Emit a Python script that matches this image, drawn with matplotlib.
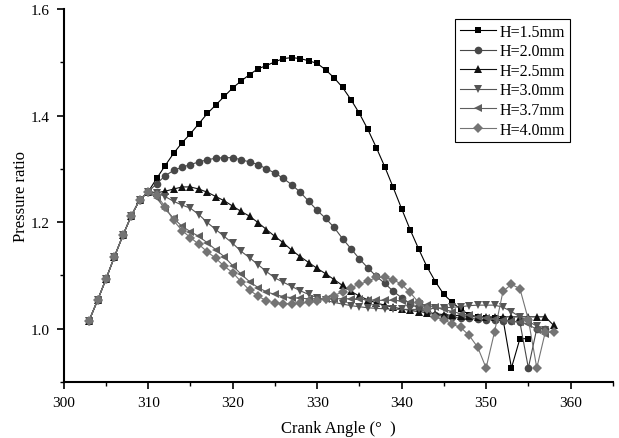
import numpy as np
import matplotlib
matplotlib.use("Agg")
from matplotlib import pyplot as plt

plt.rcParams['font.family'] = ['Liberation Serif', 'DejaVu Serif']

# common rising part, 303..310 deg
start = [1.015, 1.053, 1.093, 1.135, 1.175, 1.212, 1.242, 1.257]

h15 = [1.282, 1.306, 1.329, 1.349, 1.366, 1.385, 1.404, 1.420, 1.436, 1.452,
       1.465, 1.477, 1.488, 1.494, 1.501, 1.507, 1.509, 1.507, 1.503, 1.498,
       1.486, 1.471, 1.453, 1.430, 1.404, 1.374, 1.340, 1.304, 1.265, 1.225,
       1.186, 1.150, 1.116, 1.088, 1.064, 1.049, 1.036, 1.026, 1.022, 1.020,
       1.020, 1.018, 0.926, 0.981, 0.981]
h20 = [1.272, 1.287, 1.297, 1.303, 1.308, 1.313, 1.317, 1.320, 1.321, 1.321,
       1.317, 1.313, 1.308, 1.300, 1.292, 1.282, 1.270, 1.256, 1.239, 1.222,
       1.207, 1.190, 1.169, 1.150, 1.131, 1.114, 1.098, 1.085, 1.070, 1.058,
       1.047, 1.038, 1.031, 1.026, 1.023, 1.021, 1.020, 1.019, 1.018, 1.017,
       1.016, 1.015, 1.014, 1.012, 0.926, 1.000, 1.000]
h25 = [1.255, 1.258, 1.262, 1.266, 1.266, 1.262, 1.256, 1.248, 1.240, 1.230,
       1.220, 1.211, 1.199, 1.186, 1.173, 1.161, 1.147, 1.135, 1.124, 1.113,
       1.103, 1.092, 1.081, 1.070, 1.061, 1.054, 1.048, 1.044, 1.040, 1.037,
       1.034, 1.032, 1.030, 1.028, 1.026, 1.025, 1.024, 1.023, 1.022, 1.022,
       1.022, 1.022, 1.022, 1.022, 1.022, 1.022, 1.022, 1.006]
h30 = [1.255, 1.248, 1.239, 1.232, 1.226, 1.214, 1.199, 1.186, 1.173, 1.160,
       1.145, 1.133, 1.120, 1.107, 1.095, 1.087, 1.079, 1.071, 1.064, 1.058,
       1.053, 1.049, 1.046, 1.043, 1.041, 1.039, 1.038, 1.037, 1.036, 1.036,
       1.036, 1.036, 1.037, 1.038, 1.039, 1.040, 1.041, 1.043, 1.044, 1.044,
       1.044, 1.040, 1.032, 1.022, 1.013, 1.005, 0.998]
h37 = [1.245, 1.225, 1.207, 1.192, 1.182, 1.173, 1.161, 1.148, 1.135, 1.118,
       1.102, 1.088, 1.077, 1.069, 1.064, 1.060, 1.058, 1.057, 1.056, 1.056,
       1.056, 1.056, 1.056, 1.056, 1.055, 1.054, 1.053, 1.053, 1.053, 1.052,
       1.050, 1.047, 1.044, 1.040, 1.036, 1.032, 1.028, 1.025, 1.022, 1.020,
       1.018, 1.016, 1.014, 1.012, 1.008, 0.998, 0.990]
h40 = [1.250, 1.229, 1.203, 1.184, 1.171, 1.158, 1.144, 1.132, 1.117, 1.105,
       1.088, 1.072, 1.061, 1.052, 1.048, 1.047, 1.047, 1.048, 1.049, 1.052,
       1.056, 1.062, 1.069, 1.077, 1.083, 1.089, 1.096, 1.096, 1.092, 1.083,
       1.068, 1.049, 1.036, 1.021, 1.017, 1.008, 1.002, 0.987, 0.965, 0.926,
       0.994, 1.070, 1.083, 1.075, 1.017, 0.926, 0.993, 0.994]

labels = ['H=1.5mm', 'H=2.0mm', 'H=2.5mm', 'H=3.0mm', 'H=3.7mm', 'H=4.0mm']
series = [h15, h20, h25, h30, h37, h40]
markers = ['s', 'o', '^', 'v', '<', 'D']
colors = ['#000000', '#484848', '#111111', '#555555', '#5e5e5e', '#747474']
msizes = [5, 5.5, 5.5, 5.5, 5.5, 5]

fig = plt.figure(figsize=(6.19, 4.39), dpi=100)
ax = fig.add_axes([0.103, 0.128, 0.887, 0.849])

for y, lab, m, c, ms in zip(series, labels, markers, colors, msizes):
    yy = np.array(start + y)
    xx = np.arange(303, 303 + len(yy))
    ax.plot(xx, yy, marker=m, color=c, ms=ms, lw=0.8, label=lab,
            markeredgewidth=0)

ax.set_xlim(300, 365)
ax.set_ylim(0.9, 1.6)
ax.set_xticks([300, 310, 320, 330, 340, 350, 360])
ax.set_xticks(np.arange(305, 366, 10), minor=True)
ax.set_yticks([1.0, 1.2, 1.4, 1.6])
ax.set_yticks([0.9, 1.1, 1.3, 1.5], minor=True)
ax.set_yticklabels(['1.0', '1.2', '1.4', '1.6'])
ax.spines['top'].set_visible(False)
ax.spines['right'].set_visible(False)
ax.spines['left'].set_linewidth(1.5)
ax.spines['bottom'].set_linewidth(1.5)
ax.tick_params(which='major', direction='out', length=5, width=1.2, labelsize=11, pad=5)
ax.tick_params(which='minor', direction='out', length=3, width=1.0)

ax.set_xlabel('Crank Angle (°  )', fontsize=12, labelpad=8)
ax.set_ylabel('Pressure ratio', fontsize=12, labelpad=1)

leg = ax.legend(loc='upper right', bbox_to_anchor=(0.922, 0.973), fontsize=11.5,
                fancybox=False, edgecolor='black', framealpha=1,
                handlelength=2.3, handletextpad=0.2, labelspacing=0.22,
                borderpad=0.3, borderaxespad=0)
leg.get_frame().set_linewidth(0.8)

fig.savefig('out.png', dpi=100)
